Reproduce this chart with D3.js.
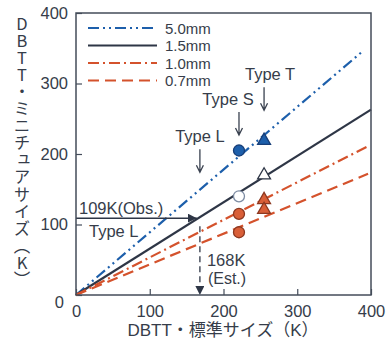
<!DOCTYPE html>
<html>
<head>
<meta charset="utf-8">
<script src="https://cdn.jsdelivr.net/npm/d3@7"></script>
<style>
body { margin: 0; background: #fff; }
text { font-family: "Liberation Sans", Arial, "Noto Sans CJK JP", sans-serif; fill: #363d4a; }
.ytitle { writing-mode: vertical-rl; text-orientation: upright; font-family: "Noto Sans CJK JP", sans-serif; letter-spacing: 0.6px; }
</style>
</head>
<body>
<svg id="chart" width="388" height="340"></svg>
<script>
// lines, all start at the origin
var seriesNames = ["5.0mm", "1.5mm", "1.0mm", "0.7mm"];
var seriesColors = ["#1d5fab", "#2e3646", "#d4522c", "#d4522c"];
var seriesDash = ["11,4,2,4,2,4", null, "11,4,2,4", "11,6"];
var lineEndX = [389, 400, 394, 396];
var lineEndY = [346, 263, 210, 172];

// measured points
var circleX = 221;
var circleY = [205, 140, 115, 89];
var circleFill = ["#1d5fab", "#ffffff", "#d95f38", "#d95f38"];
var circleStroke = ["#173e78", "#7d8ca3", "#8c3820", "#8c3820"];
var triX = 255;
var triY = [219, 170, 135, 121];
var triFill = ["#1d5fab", "#ffffff", "#d95f38", "#d95f38"];
var triStroke = ["#173e78", "#2e3646", "#8c3820", "#8c3820"];

// annotations
var typeNames = ["Type L", "Type S", "Type T"];
var typeX = [168, 221, 255];
var typeTipY = [174, 227, 262];
var typeLabelDx = [0, -11, 6];
var obsK = 109, estK = 168;

var xTicks = [0, 100, 200, 300, 400];
var yTicks = [0, 100, 200, 300, 400];
var yTitle = "DBTT・ミニチュアサイズ（K）";
var xTitle = "DBTT・標準サイズ（K）";

var svg = d3.select("#chart");
var x = d3.scaleLinear().domain([0, 400]).range([76, 371]);
var y = d3.scaleLinear().domain([0, 400]).range([295, 13]);
var axisColor = "#444c5a";

svg.append("defs").append("marker")
    .attr("id", "head")
    .attr("viewBox", "0 0 10 10")
    .attr("refX", 10).attr("refY", 5)
    .attr("markerWidth", 9).attr("markerHeight", 9)
    .attr("markerUnits", "userSpaceOnUse")
    .attr("orient", "auto")
  .append("path")
    .attr("d", "M0,0L10,5L0,10z")
    .attr("fill", "#2e3646");

// axes, ticks inside
var xAxis = svg.append("g")
    .attr("transform", "translate(0," + y(0) + ")")
    .call(d3.axisBottom(x).tickValues(xTicks).tickSize(-6).tickPadding(10));
var yAxis = svg.append("g")
    .attr("transform", "translate(" + x(0) + ",0)")
    .call(d3.axisLeft(y).tickValues(yTicks).tickSize(-6).tickPadding(8));
[xAxis, yAxis].forEach(function(a) {
    a.select(".domain").remove();
    a.selectAll("line").attr("stroke", axisColor).attr("stroke-width", 1.2);
    a.selectAll("text").style("font-size", "16.5px").attr("fill", "#363d4a")
        .style("font-family", "'Liberation Sans', Arial, sans-serif");
});
yAxis.selectAll(".tick").filter(function(d) { return d == 0; })
    .select("text").attr("transform", "translate(-4,7)");

// lines
var line = d3.line().x(function(d) { return x(d[0]); }).y(function(d) { return y(d[1]); });
seriesNames.forEach(function(name, i) {
    svg.append("path")
        .datum([[0, 0], [lineEndX[i], lineEndY[i]]])
        .attr("d", line)
        .attr("fill", "none")
        .attr("stroke", seriesColors[i])
        .attr("stroke-width", 2.2)
        .attr("stroke-dasharray", seriesDash[i]);
});

// 109K obs arrow and 168K est arrow
svg.append("line")
    .attr("x1", x(0)).attr("y1", y(obsK))
    .attr("x2", x(estK) - 3).attr("y2", y(obsK))
    .attr("stroke", "#2e3646").attr("stroke-width", 1.5)
    .attr("marker-end", "url(#head)");
svg.append("line")
    .attr("x1", x(estK)).attr("y1", y(obsK) + 8)
    .attr("x2", x(estK)).attr("y2", y(0))
    .attr("stroke", "#2e3646").attr("stroke-width", 1.3)
    .attr("stroke-dasharray", "6,4")
    .attr("marker-end", "url(#head)");

svg.append("text").attr("x", x(0) + 3).attr("y", y(obsK) - 4)
    .style("font-size", "16.5px").text(obsK + "K(Obs.)");
svg.append("text").attr("x", x(0) + 13).attr("y", y(obsK) + 19)
    .style("font-size", "16.5px").text("Type L");
svg.append("text").attr("x", x(estK) + 7).attr("y", 266)
    .style("font-size", "16.5px").text(estK + "K");
svg.append("text").attr("x", x(estK) + 8).attr("y", 284)
    .style("font-size", "16px").text("(Est.)");

// markers
circleY.forEach(function(v, i) {
    svg.append("circle")
        .attr("cx", x(circleX)).attr("cy", y(v)).attr("r", 5.5)
        .attr("fill", circleFill[i]).attr("stroke", circleStroke[i]).attr("stroke-width", 1.3);
});
triY.forEach(function(v, i) {
    svg.append("path")
        .attr("d", d3.symbol(d3.symbolTriangle).size(72))
        .attr("transform", "translate(" + x(triX) + "," + y(v) + ")")
        .attr("fill", triFill[i]).attr("stroke", triStroke[i]).attr("stroke-width", 1.3);
});

// Type arrows
typeNames.forEach(function(name, i) {
    var tx = x(typeX[i]), tip = y(typeTipY[i]);
    svg.append("path")
        .attr("d", "M" + tx + "," + (tip - 23) + "V" + tip + "M" + (tx - 3.5) + "," + (tip - 7) + "L" + tx + "," + tip + "L" + (tx + 3.5) + "," + (tip - 7))
        .attr("fill", "none").attr("stroke", "#3a4250").attr("stroke-width", 1.3);
    svg.append("text")
        .attr("x", tx + typeLabelDx[i]).attr("y", tip - 30)
        .attr("text-anchor", "middle")
        .style("font-size", "16.5px").text(name);
});

// legend
seriesNames.forEach(function(name, i) {
    var ly = 28 + i * 17.5;
    svg.append("line")
        .attr("x1", 88).attr("x2", 157).attr("y1", ly).attr("y2", ly)
        .attr("stroke", seriesColors[i]).attr("stroke-width", 2.2)
        .attr("stroke-dasharray", seriesDash[i]);
    svg.append("text")
        .attr("x", 165).attr("y", ly + 5.5)
        .style("font-size", "15px").text(name);
});

// frame
svg.append("rect")
    .attr("x", x(0)).attr("y", y(400))
    .attr("width", x(400) - x(0)).attr("height", y(0) - y(400))
    .attr("fill", "none").attr("stroke", axisColor).attr("stroke-width", 1.5);

// titles
svg.append("text")
    .attr("x", 223).attr("y", 336)
    .attr("text-anchor", "middle")
    .style("font-size", "17px").text(xTitle);

svg.append("text")
    .attr("class", "ytitle")
    .attr("x", 22).attr("y", 15)
    .style("font-size", "16.5px")
    .text(yTitle);
</script>
</body>
</html>
